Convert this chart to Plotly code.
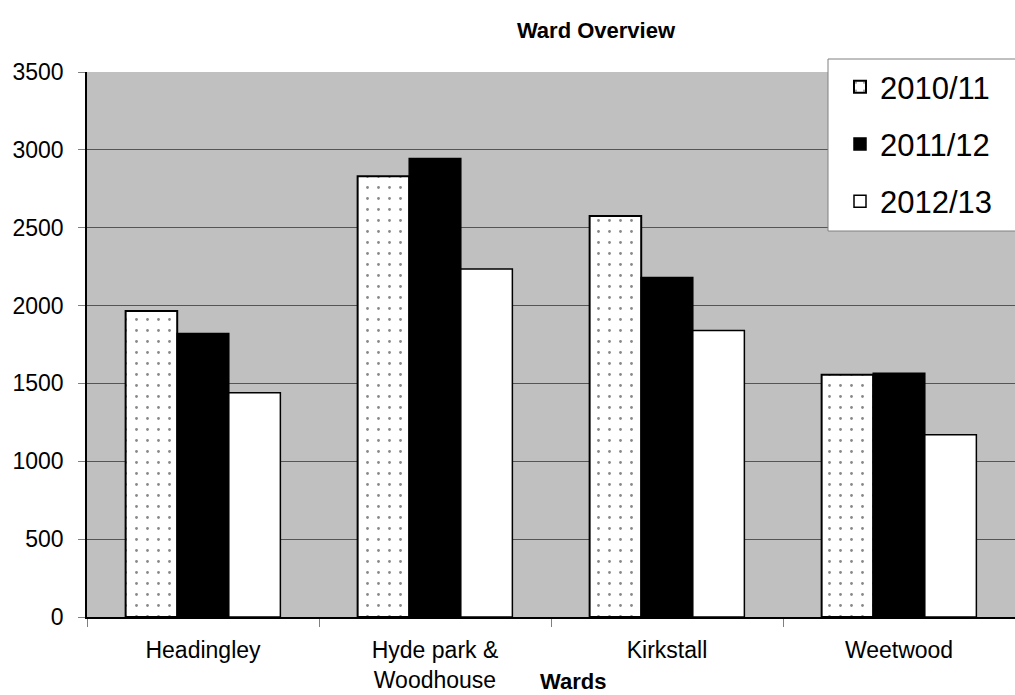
import plotly.graph_objects as go

wards = ["Headingley", "Hyde park &<br>Woodhouse", "Kirkstall", "Weetwood"]
v_2010 = [1965, 2830, 2575, 1555]
v_2011 = [1820, 2945, 2180, 1565]
v_2012 = [1440, 2235, 1840, 1170]
series_names = ["2010/11", "2011/12", "2012/13"]
y_ticks = [0, 500, 1000, 1500, 2000, 2500, 3000, 3500]

W, H = 1015, 695
L, R, T, B = 87, 0, 72, 78
PW, PH = W - L - R, H - T - B

fig = go.Figure()
fig.add_trace(go.Bar(
    x=wards, y=v_2010, name=series_names[0], legendgroup="a",
    marker=dict(color="white", line=dict(color="black", width=2),
                pattern=dict(shape=".", fgcolor="#111111", bgcolor="white",
                             size=11, solidity=0.05, fillmode="overlay")),
))
fig.add_trace(go.Bar(
    x=wards, y=v_2011, name=series_names[1], legendgroup="b",
    marker=dict(color="black", line=dict(color="black", width=1.5)),
))
fig.add_trace(go.Bar(
    x=wards, y=v_2012, name=series_names[2], legendgroup="c",
    marker=dict(color="white", line=dict(color="black", width=1.5)),
))

def px(xp):
    return (xp - L) / PW

def py(yp):
    return (H - B - yp) / PH

fig.update_layout(
    width=W, height=H,
    margin=dict(l=L, r=R, t=T, b=B),
    paper_bgcolor="white",
    plot_bgcolor="#C0C0C0",
    font=dict(family="Liberation Sans, Arial", color="black", size=23),
    barmode="group",
    bargap=0.333,
    bargroupgap=0,
    showlegend=True,
    legend=dict(
        x=px(840), y=py(60), xanchor="left", yanchor="top",
        bgcolor="rgba(0,0,0,0)", borderwidth=0,
        font=dict(size=31), tracegroupgap=14,
    ),
    title=dict(text="<b>Ward Overview</b>", x=596 / W, xanchor="center",
               xref="container", yref="container",
               y=1 - 30 / H, yanchor="middle", font=dict(size=22)),
    shapes=[dict(type="rect", xref="paper", yref="paper",
                 x0=px(828), x1=px(1030), y0=py(231), y1=py(59),
                 fillcolor="white", line=dict(color="#808080", width=1),
                 layer="above")],
    annotations=[dict(text="<b>Wards</b>", xref="paper", yref="paper",
                      x=px(573), y=py(681),
                      xanchor="center", yanchor="middle",
                      showarrow=False, font=dict(size=22))],
)
fig.update_xaxes(
    showline=True, linecolor="black", linewidth=2,
    ticks="outside", tickson="boundaries", ticklen=8, tickcolor="#808080",
    showgrid=False, tickfont=dict(size=23), ticklabelstandoff=11,
)
fig.update_yaxes(
    range=[0, 3500], tickvals=y_ticks,
    showline=True, linecolor="black", linewidth=1.5,
    ticks="outside", ticklen=7, tickcolor="#808080",
    showgrid=True, gridcolor="#555555", gridwidth=1,
    tickfont=dict(size=23), zeroline=False,
    ticklabelstandoff=10,
)

fig.write_html("out.html", config={"displayModeBar": False},
               post_script="document.body.style.margin='0';document.body.style.overflow='hidden';")
